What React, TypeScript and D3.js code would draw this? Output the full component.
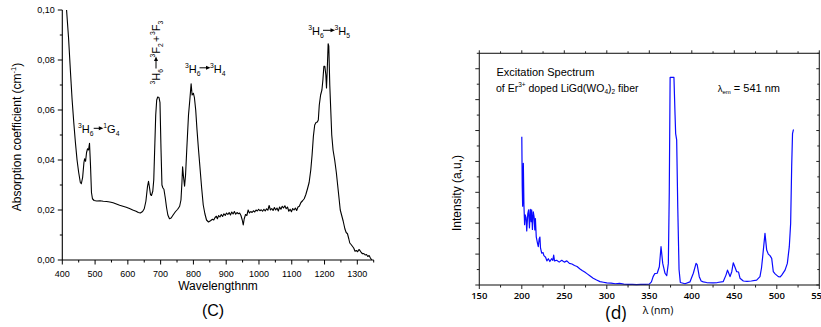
import React from 'react';
import * as d3 from 'd3';

// ---------- Left chart (C): absorption spectrum ----------
const absWavelength = [
  413, 419, 425, 430, 435, 440, 445, 450, 455, 458, 462, 466, 468, 471, 474, 477, 480, 483, 486, 489, 492, 497,
  505, 515, 525, 535, 545, 555, 565, 575, 585, 595, 605, 615, 625, 632, 638, 645, 650, 655, 660, 663, 666, 669,
  672, 676, 679, 682, 685, 688, 691, 695, 698, 701, 704, 707, 710, 714, 718, 722, 727, 732, 738, 745, 752, 758,
  762, 765, 767, 770, 773, 776, 780, 785, 789, 793, 796, 800, 803, 807, 811, 815, 820, 825, 830, 835, 840, 846,
  852, 858, 862, 866, 870, 873, 877, 881, 885, 889, 893, 897, 901, 905, 909, 913, 917, 921, 925, 929, 933, 937,
  941, 945, 949, 952, 955, 959, 963, 967, 971, 975, 979, 983, 987, 991, 995, 999, 1003, 1007, 1011, 1015, 1019,
  1023, 1027, 1031, 1035, 1039, 1043, 1047, 1051, 1055, 1059, 1063, 1067, 1071, 1075, 1079, 1083, 1087, 1091,
  1095, 1099, 1103, 1107, 1111, 1115, 1119, 1123, 1128, 1133, 1138, 1143, 1148, 1153, 1158, 1162, 1166, 1170,
  1174, 1178, 1181, 1184, 1188, 1192, 1195, 1198, 1201, 1204, 1206, 1208, 1211, 1213, 1216, 1219, 1222, 1226,
  1231, 1236, 1240, 1244, 1248, 1252, 1257, 1262, 1266, 1270, 1274, 1277, 1281, 1285, 1289, 1293, 1297, 1301,
  1305, 1308, 1312, 1316, 1320, 1324, 1328, 1332, 1336, 1340, 1344,
];
const absValue = [
  0.1, 0.089, 0.075, 0.064, 0.055, 0.047, 0.04, 0.035, 0.031, 0.0305, 0.033, 0.039, 0.0405, 0.0395, 0.043, 0.0445,
  0.044, 0.0467, 0.038, 0.027, 0.0245, 0.0238, 0.0236, 0.0237, 0.0235, 0.0234, 0.0232, 0.0229, 0.0224, 0.0219,
  0.0215, 0.0211, 0.0206, 0.02, 0.0195, 0.019, 0.0188, 0.0194, 0.0205, 0.0235, 0.0295, 0.0315, 0.029, 0.0262,
  0.0258, 0.0275, 0.032, 0.045, 0.058, 0.064, 0.0652, 0.065, 0.063, 0.045, 0.03, 0.0288, 0.0283, 0.025, 0.021,
  0.018, 0.0165, 0.0168, 0.018, 0.0193, 0.0203, 0.0215, 0.024, 0.031, 0.0373, 0.033, 0.0295, 0.034, 0.045, 0.058,
  0.064, 0.0705, 0.066, 0.0667, 0.065, 0.06, 0.052, 0.045, 0.037, 0.029, 0.022, 0.0185, 0.016, 0.0152, 0.0157,
  0.0163, 0.016, 0.017, 0.0175, 0.0165, 0.0178, 0.0172, 0.0182, 0.0174, 0.0185, 0.0178, 0.0188, 0.0182, 0.019,
  0.018, 0.0192, 0.0184, 0.0194, 0.0183, 0.019, 0.0185, 0.0188, 0.0178, 0.016, 0.014, 0.0165, 0.0182, 0.0178,
  0.02, 0.0188, 0.0194, 0.019, 0.0197, 0.0192, 0.02, 0.0196, 0.0203, 0.0197, 0.0201, 0.0195, 0.0203, 0.0196,
  0.0205, 0.0199, 0.0218, 0.02, 0.0206, 0.0198, 0.021, 0.02, 0.0208, 0.0196, 0.0212, 0.0203, 0.0215, 0.0208,
  0.0217, 0.0205, 0.0212, 0.0195, 0.0203, 0.0193, 0.0206, 0.02, 0.0208, 0.0198, 0.0212, 0.0215, 0.023, 0.0237,
  0.0245, 0.0262, 0.0285, 0.031, 0.036, 0.042, 0.0495, 0.054, 0.055, 0.0552, 0.056, 0.062, 0.066, 0.068, 0.072,
  0.0775, 0.0775, 0.074, 0.0688, 0.075, 0.0865, 0.0855, 0.07, 0.06, 0.05, 0.044, 0.04, 0.035, 0.03, 0.025, 0.02,
  0.018, 0.0155, 0.0125, 0.011, 0.0105, 0.0085, 0.0068, 0.0062, 0.0055, 0.0048, 0.0035, 0.0038, 0.0033, 0.0042,
  0.0038, 0.003, 0.0025, 0.0026, 0.002, 0.0022, 0.0014, 0.0018, 0.0008, 0.0,
];
const absYMajor = [0, 0.02, 0.04, 0.06, 0.08, 0.1];
const absYMinor = [0.01, 0.03, 0.05, 0.07, 0.09];
const absXMajor = [400, 500, 600, 700, 800, 900, 1000, 1100, 1200, 1300];
const absXMinor = [450, 550, 650, 750, 850, 950, 1050, 1150, 1250, 1350];

// ---------- Right chart (d): excitation spectrum ----------
const excWavelength = [
  200, 200.5, 201, 201.8, 202.5, 203.3, 204, 205, 205.8, 207, 208, 209, 210, 211, 211.6, 212.5, 213.5, 214.5,
  215.3, 216, 217, 218.5, 219.4, 220.5, 221.3, 222, 223.4, 225, 226, 228, 229.5, 231.2, 233, 235, 236.5, 237.5,
  238.5, 241, 244, 247, 250, 253, 256, 259, 262, 265, 268.5, 271, 274, 277, 280, 284, 288, 292, 296, 300, 305,
  310, 315, 320, 325, 330, 335, 340, 345, 350, 352.5, 354.5, 356.5, 359.3, 361.8, 363.8, 365.8, 368.5, 370.5,
  372.4, 373.5, 374.5, 379, 380.3, 381, 382.2, 383.5, 385, 386.5, 392, 397.8, 401.8, 405, 406.3, 408.8, 411,
  413.5, 417.5, 425, 430, 437, 440.2, 442, 443.5, 445, 447, 448.8, 450.5, 452.8, 455, 456.7, 460.6, 465, 470,
  476.3, 480.2, 482, 483.4, 486.1, 488.1, 490, 492, 494, 495.9, 498, 501.8, 504, 505.8, 509.7, 512.4, 514.7,
  516.3, 517.5, 518.5, 519.5, 520,
];
const excIntensity = [
  4.8, 3.2, 2.55, 3.94, 2.6, 1.95, 2.27, 2.18, 1.75, 2.3, 2.43, 1.85, 2.45, 2.05, 2.43, 1.8, 2.37, 2.2, 1.78,
  2.15, 1.56, 1.35, 1.24, 1.5, 1.55, 1.2, 1.03, 1.05, 0.95, 0.9, 0.78, 0.85, 0.76, 0.85, 0.8, 0.97, 0.78, 0.8,
  0.74, 0.8, 0.74, 0.78, 0.7, 0.68, 0.63, 0.6, 0.52, 0.47, 0.42, 0.36, 0.3, 0.22, 0.16, 0.11, 0.09, 0.07, 0.06,
  0.04, 0.05, 0.03, 0.02, 0.02, 0.015, 0.02, 0.02, 0.03, 0.1, 0.27, 0.37, 0.38, 0.59, 1.24, 0.7, 0.38, 0.3, 0.7,
  3.0, 6.72, 6.72, 5.5, 4.9, 4.7, 2.5, 0.5, 0.08, 0.04, 0.1, 0.38, 0.7, 0.66, 0.27, 0.13, 0.1, 0.08, 0.07, 0.08,
  0.11, 0.32, 0.48, 0.38, 0.27, 0.43, 0.72, 0.6, 0.43, 0.42, 0.22, 0.13, 0.12, 0.13, 0.16, 0.27, 0.55, 0.92, 1.67,
  1.13, 1.0, 0.95, 0.86, 0.43, 0.36, 0.27, 0.26, 0.32, 0.48, 0.7, 1.24, 2.0, 3.83, 4.9, 5.02, 5.02,
];
const excXMajor = [150, 200, 250, 300, 350, 400, 450, 500, 550];
const excXMinor = [175, 225, 275, 325, 375, 425, 475, 525];
const excYMajor = [0, 1, 2, 3, 4, 5, 6, 7];
const excYMinor = [0.5, 1.5, 2.5, 3.5, 4.5, 5.5, 6.5, 7.5];

const SANS = "'Liberation Sans', Arial, sans-serif";
const OPEN = "'Open Sans', 'Noto Sans', sans-serif";

function Term({ x, y, sup, main, sub, fs = 11 }: any) {
  const s = fs * 0.62;
  return (
    <text x={x} y={y} fontSize={fs} fontFamily={SANS} fill="#000">
      <tspan fontSize={s} dy={-fs * 0.45}>{sup}</tspan>
      <tspan dy={fs * 0.45}>{main}</tspan>
      <tspan fontSize={s} dy={fs * 0.28}>{sub}</tspan>
    </text>
  );
}

function Arrow({ x1, x2, y }: any) {
  return (
    <g>
      <line x1={x1} x2={x2 - 3} y1={y} y2={y} stroke="#000" strokeWidth={1} />
      <path d={`M${x2},${y} L${x2 - 4.5},${y - 2} L${x2 - 4.5},${y + 2} Z`} fill="#000" />
    </g>
  );
}

export default function App() {
  // left chart scales
  const xA = d3.scaleLinear().domain([400, 1350]).range([62.3, 373.7]);
  const yA = d3.scaleLinear().domain([0, 0.1]).range([260, 10]);
  const lineA = d3
    .line<number>()
    .x((d, i) => xA(absWavelength[i]))
    .y((d) => yA(d));
  const fmtA = (v: number) => d3.format('.2f')(v).replace('.', ',');

  // right chart scales
  const xB = d3.scaleLinear().domain([150, 550]).range([479.3, 819.3]);
  const yB = d3.scaleLinear().domain([0, 7.5]).range([285, 53.3]);
  const lineB = d3
    .line<number>()
    .x((d, i) => xB(excWavelength[i]))
    .y((d) => yB(d));

  const [bx0, bx1] = xB.range();
  const [by0, by1] = yB.range();

  return (
    <svg
      width={821}
      height={327}
      style={{ position: 'absolute', left: 0, top: 0, background: '#fff' }}
    >
      <rect x={0} y={0} width={821} height={327} fill="#fff" />

      {/* ===== Left chart ===== */}
      <g>
        <path d={lineA(absValue) || ''} fill="none" stroke="#000" strokeWidth={1.1} strokeLinejoin="round" />
        {/* axes */}
        <line x1={xA(400)} x2={xA(400)} y1={yA(0)} y2={yA(0.1)} stroke="#000" strokeWidth={1.1} />
        <line x1={xA(400)} x2={xA(1350)} y1={yA(0)} y2={yA(0)} stroke="#000" strokeWidth={1.1} />
        {absYMajor.map((v) => (
          <g key={'ym' + v}>
            <line x1={xA(400) - 4.5} x2={xA(400)} y1={yA(v)} y2={yA(v)} stroke="#000" />
            <text x={xA(400) - 7.5} y={yA(v) + 3.2} fontSize={9} fontFamily={SANS} textAnchor="end">
              {fmtA(v)}
            </text>
          </g>
        ))}
        {absYMinor.map((v) => (
          <line key={'yn' + v} x1={xA(400) - 2.5} x2={xA(400)} y1={yA(v)} y2={yA(v)} stroke="#000" />
        ))}
        {absXMajor.map((v) => (
          <g key={'xm' + v}>
            <line x1={xA(v)} x2={xA(v)} y1={yA(0)} y2={yA(0) + 4.5} stroke="#000" />
            <text x={xA(v)} y={277} fontSize={9} fontFamily={SANS} textAnchor="middle">
              {v}
            </text>
          </g>
        ))}
        {absXMinor.map((v) => (
          <line key={'xn' + v} x1={xA(v)} x2={xA(v)} y1={yA(0)} y2={yA(0) + 2.5} stroke="#000" />
        ))}
        <text
          transform="translate(21,137) rotate(-90)"
          fontSize={12}
          fontFamily={SANS}
          textAnchor="middle"
        >
          Absorption coefficient (cm
          <tspan fontSize={7.5} dy={-5}>-1</tspan>
          <tspan dy={5}>)</tspan>
        </text>
        <text x={218} y={290} fontSize={12} fontFamily={SANS} textAnchor="middle">
          Wavelengthnm
        </text>
        <text x={213} y={315.5} fontSize={16} fontFamily={SANS} textAnchor="middle">
          (C)
        </text>

        {/* annotations */}
        <Term x={78} y={133} sup="3" main="H" sub="6" />
        <Arrow x1={93.7} x2={103.3} y={128.3} />
        <Term x={103.3} y={133} sup="1" main="G" sub="4" />

        <g transform="translate(160,84) rotate(-90)">
          <Term x={-0.5} y={0} sup="3" main="H" sub="6" />
          <Arrow x1={15.5} x2={27.5} y={-4} />
          <Term x={26.5} y={0} sup="3" main="F" sub="2" />
          <text x={42} y={0} fontSize={11} fontFamily={SANS}>+</text>
          <Term x={49} y={0} sup="3" main="F" sub="3" />
        </g>

        <Term x={185} y={72.5} sup="3" main="H" sub="6" />
        <Arrow x1={199.5} x2={210.5} y={67.8} />
        <Term x={210} y={72.5} sup="3" main="H" sub="4" />

        <Term x={308.3} y={35} sup="3" main="H" sub="6" />
        <Arrow x1={323} x2={335} y={30.3} />
        <Term x={334.5} y={35} sup="3" main="H" sub="5" />
      </g>

      {/* ===== Right chart ===== */}
      <g>
        <path d={lineB(excIntensity) || ''} fill="none" stroke="#0a0aff" strokeWidth={1.2} strokeLinejoin="round" />
        {/* frame */}
        <rect x={bx0} y={by1} width={bx1 - bx0} height={by0 - by1} fill="none" stroke="#222" strokeWidth={1.1} />
        {excXMajor.map((v) => (
          <g key={'bxm' + v}>
            <line x1={xB(v)} x2={xB(v)} y1={by0} y2={by0 + 4} stroke="#222" />
            <line x1={xB(v)} x2={xB(v)} y1={by1} y2={by1 - 3} stroke="#222" />
            <text
              x={xB(v)}
              y={299}
              fontSize={9.5}
              fontWeight={600}
              fontFamily={OPEN}
              textAnchor="middle"
            >
              {v}
            </text>
          </g>
        ))}
        {excXMinor.map((v) => (
          <g key={'bxn' + v}>
            <line x1={xB(v)} x2={xB(v)} y1={by0} y2={by0 + 2.5} stroke="#222" />
            <line x1={xB(v)} x2={xB(v)} y1={by1} y2={by1 - 2} stroke="#222" />
          </g>
        ))}
        {excYMajor.map((v) => (
          <g key={'bym' + v}>
            <line x1={bx0 - 4} x2={bx0} y1={yB(v)} y2={yB(v)} stroke="#222" />
            <line x1={bx1} x2={bx1 - 3} y1={yB(v)} y2={yB(v)} stroke="#222" />
          </g>
        ))}
        {excYMinor.map((v) => (
          <g key={'byn' + v}>
            <line x1={bx0 - 2.5} x2={bx0} y1={yB(v)} y2={yB(v)} stroke="#222" />
            <line x1={bx1} x2={bx1 - 2} y1={yB(v)} y2={yB(v)} stroke="#222" />
          </g>
        ))}
        <text
          transform="translate(461,193) rotate(-90)"
          fontSize={12}
          fontFamily={SANS}
          textAnchor="middle"
        >
          Intensity (a,u,)
        </text>
        <text x={658} y={313.5} fontSize={10.5} fontFamily={OPEN} textAnchor="middle">
          λ (nm)
        </text>
        <text x={616} y={319} fontSize={17.5} fontFamily={OPEN} textAnchor="middle">
          (d)
        </text>
        <text x={496.5} y={76} fontSize={11} fontFamily={SANS}>
          Excitation Spectrum
        </text>
        <text x={496} y={91.7} fontSize={10.5} fontFamily={SANS}>
          of Er
          <tspan fontSize={6.5} dy={-4.5}>3+</tspan>
          <tspan dy={4.5}> doped LiGd(WO</tspan>
          <tspan fontSize={6.5} dy={2.5}>4</tspan>
          <tspan dy={-2.5}>)</tspan>
          <tspan fontSize={6.5} dy={2.5}>2</tspan>
          <tspan dy={-2.5}> fiber</tspan>
        </text>
        <text x={717.7} y={91.7} fontSize={11} fontFamily={SANS}>
          <tspan fontSize={9.5}>λ</tspan>
          <tspan fontSize={6} dy={2}>em</tspan>
          <tspan dy={-2}> = 541 nm</tspan>
        </text>
      </g>
    </svg>
  );
}
